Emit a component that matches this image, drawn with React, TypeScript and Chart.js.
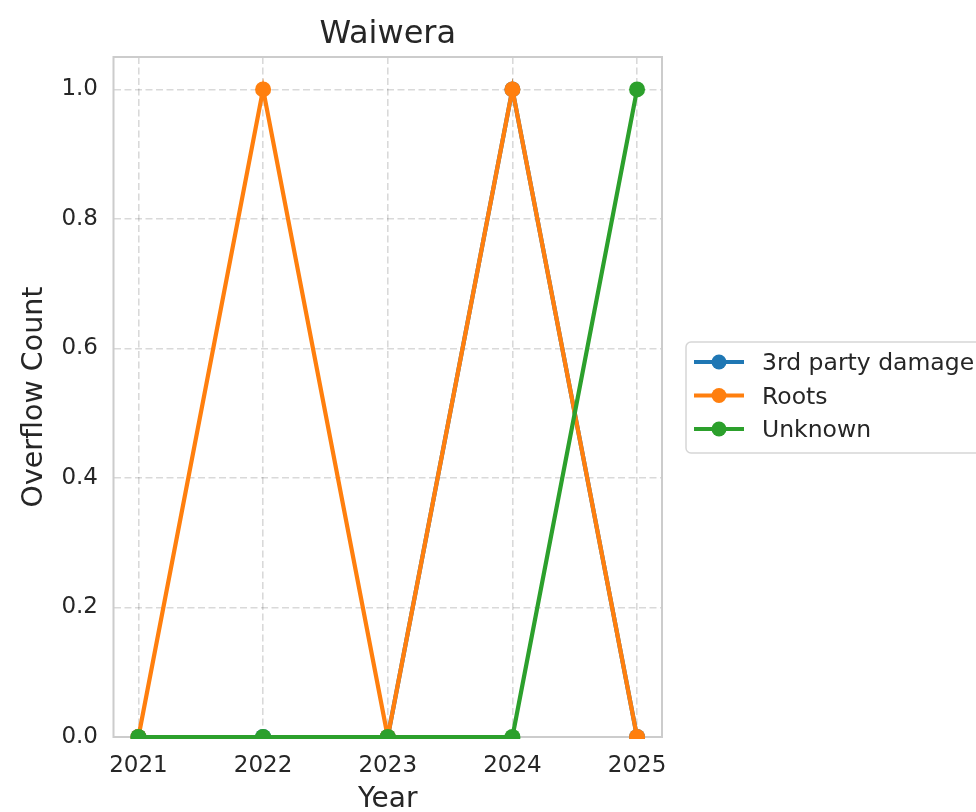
import React, { useEffect, useRef } from 'react';
import { Chart, registerables } from 'chart.js';

Chart.register(...registerables);

const years = [2021, 2022, 2023, 2024, 2025];
const thirdPartyDamage = [0, 0, 0, 1, 0];
const roots = [0, 1, 0, 1, 0];
const unknown = [0, 0, 0, 0, 1];
const seriesNames = ['3rd party damage', 'Roots', 'Unknown'];
const seriesColors = ['#1f77b4', '#ff7f0e', '#2ca02c'];
const yTicks = [0, 0.2, 0.4, 0.6, 0.8, 1.0];
const chartTitle = 'Waiwera';
const xLabel = 'Year';
const yLabel = 'Overflow Count';

const FONT = '"DejaVu Sans", sans-serif';
const TEXT = '#262626';

const decorPlugin = {
  id: 'decor',
  beforeDatasetsDraw(chart: any) {
    const { ctx, chartArea } = chart;
    const { left, right, top, bottom } = chartArea;
    ctx.save();
    ctx.strokeStyle = '#cccccc';
    ctx.lineWidth = 2;
    ctx.strokeRect(left, top, right - left, bottom - top);
    ctx.restore();
  },
  afterDraw(chart: any) {
    const { ctx, chartArea } = chart;
    const { left, right } = chartArea;
    ctx.save();
    ctx.fillStyle = TEXT;
    ctx.font = `32px ${FONT}`;
    ctx.textAlign = 'center';
    ctx.textBaseline = 'alphabetic';
    ctx.fillText(chartTitle, (left + right) / 2, 43);

    const bx = 686, by = 342, bw = 300, bh = 111, r = 5;
    ctx.beginPath();
    ctx.moveTo(bx + r, by);
    ctx.lineTo(bx + bw - r, by);
    ctx.arcTo(bx + bw, by, bx + bw, by + r, r);
    ctx.lineTo(bx + bw, by + bh - r);
    ctx.arcTo(bx + bw, by + bh, bx + bw - r, by + bh, r);
    ctx.lineTo(bx + r, by + bh);
    ctx.arcTo(bx, by + bh, bx, by + bh - r, r);
    ctx.lineTo(bx, by + r);
    ctx.arcTo(bx, by, bx + r, by, r);
    ctx.closePath();
    ctx.fillStyle = 'rgba(255,255,255,0.8)';
    ctx.fill();
    ctx.strokeStyle = '#d6d6d6';
    ctx.lineWidth = 1.5;
    ctx.stroke();

    const rows = [362, 395.5, 429];
    seriesNames.forEach((name, i) => {
      const y = rows[i];
      ctx.strokeStyle = seriesColors[i];
      ctx.lineWidth = 4.2;
      ctx.lineCap = 'butt';
      ctx.beginPath();
      ctx.moveTo(694, y);
      ctx.lineTo(744, y);
      ctx.stroke();
      ctx.fillStyle = seriesColors[i];
      ctx.beginPath();
      ctx.arc(719, y, 7.5, 0, Math.PI * 2);
      ctx.fill();
      ctx.fillStyle = TEXT;
      ctx.font = `23.5px ${FONT}`;
      ctx.textAlign = 'left';
      ctx.textBaseline = 'alphabetic';
      ctx.fillText(name, 762, y + 8);
    });
    ctx.restore();
  },
};

export default function App() {
  const canvasRef = useRef<HTMLCanvasElement | null>(null);

  useEffect(() => {
    const canvas = canvasRef.current;
    if (!canvas) return;
    const seriesValues = [thirdPartyDamage, roots, unknown];
    const datasets = seriesNames.map((name, i) => ({
      label: name,
      data: years.map((yr, j) => ({ x: yr, y: seriesValues[i][j] })),
      borderColor: seriesColors[i],
      backgroundColor: seriesColors[i],
      borderWidth: 4.2,
      pointRadius: 8,
      pointHoverRadius: 8,
      pointBorderWidth: 0,
      pointBackgroundColor: seriesColors[i],
      tension: 0,
      fill: false,
      clip: { left: 0, top: 0, right: 0, bottom: 2 },
      order: seriesNames.length - i,
    }));

    const chart = new Chart(canvas, {
      type: 'line',
      data: { datasets },
      options: {
        animation: false,
        responsive: false,
        maintainAspectRatio: false,
        events: [],
        layout: { padding: { left: 0, top: 57, right: 314, bottom: 0 } },
        plugins: {
          legend: { display: false },
          title: { display: false },
          tooltip: { enabled: false },
        },
        scales: {
          x: {
            type: 'linear',
            min: 2020.8,
            max: 2025.2,
            afterBuildTicks: (scale: any) => {
              scale.ticks = years.map((v) => ({ value: v }));
            },
            afterFit: (scale: any) => {
              scale.height = 75;
            },
            ticks: {
              callback: (v: any) => String(v),
              color: TEXT,
              font: { family: FONT, size: 23 },
              padding: 15,
              maxRotation: 0,
              autoSkip: false,
            },
            grid: {
              color: 'rgba(0,0,0,0.15)',
              lineWidth: 1.6,
              drawTicks: false,
            },
            border: { display: false, dash: [7, 3.5] },
            title: {
              display: true,
              text: xLabel,
              color: TEXT,
              font: { family: FONT, size: 28, lineHeight: 0.85 },
              padding: { top: 0, bottom: 0 },
            },
          },
          y: {
            type: 'linear',
            min: 0,
            max: 1.05,
            afterBuildTicks: (scale: any) => {
              scale.ticks = yTicks.map((v) => ({ value: v }));
            },
            afterFit: (scale: any) => {
              scale.width = 113.5;
            },
            ticks: {
              callback: (v: any) => Number(v).toFixed(1),
              color: TEXT,
              font: { family: FONT, size: 23 },
              padding: 15.5,
              autoSkip: false,
            },
            grid: {
              color: 'rgba(0,0,0,0.15)',
              lineWidth: 1.6,
              drawTicks: false,
            },
            border: { display: false, dash: [7, 3.5] },
            title: {
              display: true,
              text: yLabel,
              color: TEXT,
              font: { family: FONT, size: 28.5 },
              padding: { top: 17, bottom: 0 },
            },
          },
        },
      },
      plugins: [decorPlugin],
    } as any);

    return () => {
      chart.destroy();
    };
  }, []);

  return (
    <div style={{ position: 'fixed', left: 0, top: 0, width: 976, height: 812, background: '#fff' }}>
      <canvas ref={canvasRef} width={976} height={812} style={{ display: 'block', width: 976, height: 812 }} />
    </div>
  );
}
